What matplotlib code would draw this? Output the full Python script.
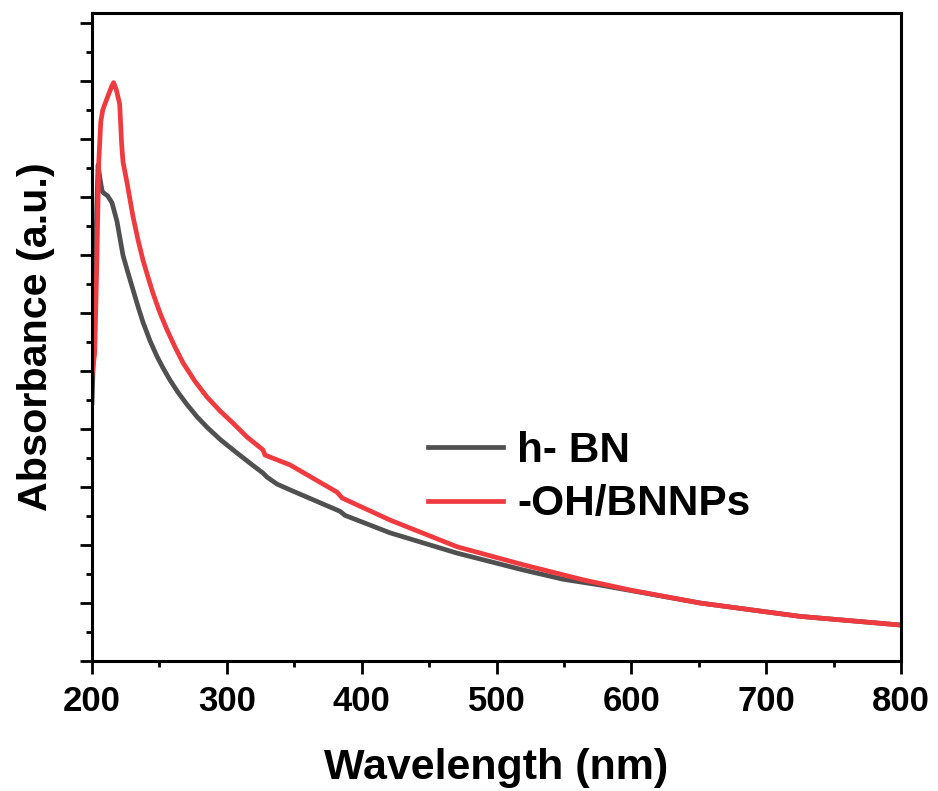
import numpy as np
import matplotlib
matplotlib.use("Agg")
import matplotlib.pyplot as plt
from matplotlib.ticker import MultipleLocator

plt.rcParams['font.family'] = ['Liberation Sans', 'DejaVu Sans']
plt.rcParams['font.weight'] = 'bold'

# h-BN curve (wavelength nm, absorbance a.u.)
bn_wl = [200.0, 201.0, 202.2, 203.5, 204.5, 206.0, 207.5, 208.5, 211.5, 214.8,
         218.5, 223.0, 226.7, 230.4, 234.1, 237.8, 243.0, 248.2, 252.7, 257.9,
         263.8, 270.5, 277.9, 285.3, 295.0, 304.6, 317.2, 326.8, 329.8, 337.2,
         346.9, 384.0, 387.7, 421.0, 470.7, 519.7, 549.3, 576.8, 651.0, 725.0,
         800.0]
bn_abs = [4.45, 5.2, 6.5, 7.8, 8.55, 8.3, 8.1, 8.07, 8.02, 7.90,
          7.58, 6.99, 6.69, 6.40, 6.11, 5.84, 5.52, 5.25, 5.05, 4.84,
          4.63, 4.42, 4.21, 4.03, 3.82, 3.64, 3.41, 3.24, 3.17, 3.05,
          2.95, 2.58, 2.51, 2.21, 1.86, 1.57, 1.41, 1.31, 1.0, 0.77,
          0.62]

# -OH/BNNPs curve
oh_wl = [200.0, 202.0, 203.5, 205.0, 206.5, 208.0, 211.5, 214.5, 216.0, 218.0,
         220.5, 222.0, 223.0, 226.0, 228.2, 230.4, 234.1, 237.8, 241.5, 245.2,
         250.4, 255.6, 261.6, 267.5, 276.4, 285.3, 295.0, 304.6, 315.0, 326.8,
         328.3, 346.9, 381.8, 385.5, 421.0, 470.7, 519.7, 564.2, 600.0, 651.0,
         725.0, 800.0]
oh_abs = [4.95, 5.3, 6.8, 8.6, 9.3, 9.5, 9.72, 9.9, 9.97, 9.85,
          9.6, 8.9, 8.6, 8.24, 7.95, 7.66, 7.26, 6.91, 6.62, 6.34,
          6.0, 5.71, 5.41, 5.14, 4.82, 4.55, 4.31, 4.10, 3.86, 3.64,
          3.55, 3.38, 2.91, 2.81, 2.43, 1.97, 1.66, 1.40, 1.22, 1.0,
          0.77, 0.62]

fig = plt.figure(figsize=(9.38, 7.91), dpi=100)
ax = fig.add_axes([0.0981, 0.1643, 0.8625, 0.8193])

ax.plot(bn_wl, bn_abs, color='#505050', lw=3.4, label='h- BN')
ax.plot(oh_wl, oh_abs, color='#ef3b40', lw=3.4, label='-OH/BNNPs')

ax.set_xlim(200, 800)
ax.set_ylim(0, 11.17)
ax.xaxis.set_major_locator(MultipleLocator(100))
ax.xaxis.set_minor_locator(MultipleLocator(50))
ax.yaxis.set_major_locator(MultipleLocator(1))
ax.yaxis.set_minor_locator(MultipleLocator(0.5))
ax.set_yticklabels([])
ax.tick_params(which='major', direction='out', length=9, width=2, labelsize=25, pad=8)
ax.tick_params(which='minor', direction='out', length=4.5, width=2)
for lab in ax.get_xticklabels():
    lab.set_fontweight('bold')
for sp in ax.spines.values():
    sp.set_linewidth(2.2)

ax.set_xlabel('Wavelength (nm)', fontsize=31, fontweight='bold', labelpad=22)
ax.set_ylabel('Absorbance (a.u.)', fontsize=29.7, fontweight='bold', labelpad=10)

ax.legend(loc='center left', bbox_to_anchor=(0.415, 0.283), frameon=False,
          handlelength=1.78, handletextpad=0.33, labelspacing=0.32,
          borderpad=0, borderaxespad=0,
          prop={'weight': 'bold', 'size': 30.5})

fig.savefig('out.png', dpi=100)
